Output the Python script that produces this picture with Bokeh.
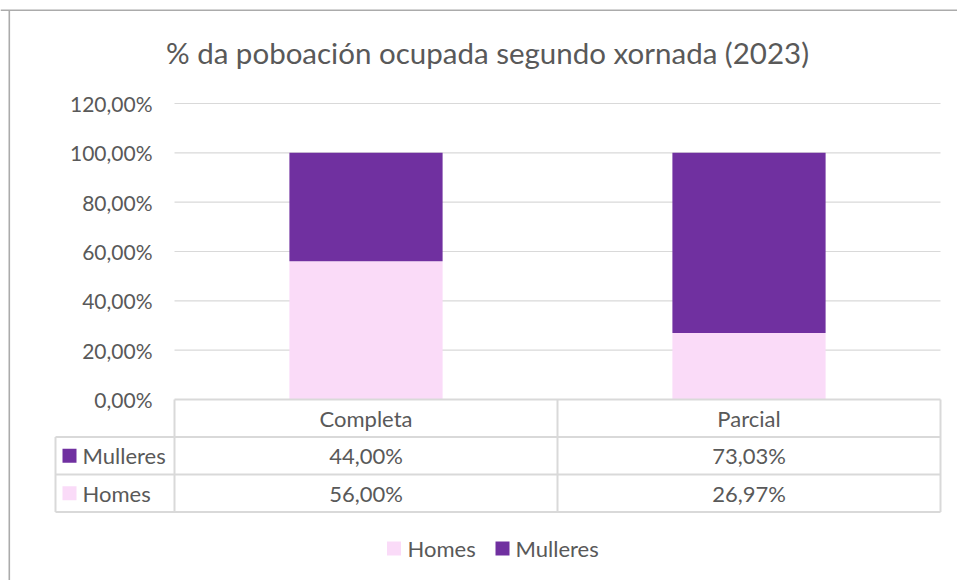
from bokeh.plotting import figure
from bokeh.models import Range1d, ColumnDataSource
from bokeh.core.properties import value
from bokeh.embed import file_html
from bokeh.resources import INLINE

# ---- data ----
title = "% da poboación ocupada segundo xornada (2023)"
categories = ["Completa", "Parcial"]
series = ["Homes", "Mulleres"]
homes = [56.00, 26.97]
mulleres = [44.00, 73.03]
y_ticks = [0, 20, 40, 60, 80, 100, 120]
tick_labels = ["0,00%", "20,00%", "40,00%", "60,00%", "80,00%", "100,00%", "120,00%"]
series_colors = ["#FADBF8", "#7030A0"]

# ---- layout (page pixels) ----
W, H = 957, 580
OX, OY = 0, 0
PX0, PX1 = 174, 940
PY0, PY120 = 399, 103
kx = (PX1 - PX0) / len(categories)
ky = (PY0 - PY120) / 120.0


def X(px):
    return (px - PX0) / kx


def Y(py):
    return (PY0 - py) / ky


FONT = value("Lato")
TXT = "#595959"
GRID = "#D9D9D9"
FS = "22px"

p = figure(width=W, height=H,
           x_range=Range1d(X(OX), X(OX + W)),
           y_range=Range1d(Y(OY + H), Y(OY)),
           output_backend="svg", toolbar_location=None,
           x_axis_location=None, y_axis_location=None,
           min_border=0, tools="")
p.xgrid.visible = False
p.ygrid.visible = False
p.outline_line_color = None
p.background_fill_color = "white"
p.border_fill_color = "white"

n = len(categories)
xs = [i + 0.5 for i in range(n)]

# gridlines
gl = y_ticks[1:]
p.segment(x0=[0] * len(gl), x1=[n] * len(gl), y0=gl, y1=gl, line_color=GRID, line_width=1.2)

# bars
src = ColumnDataSource(dict(x=xs, Homes=homes, Mulleres=mulleres))
p.vbar_stack(series, x="x", width=0.4, color=series_colors, line_color=None, source=src)

# y tick labels
p.text(x=[X(152)] * len(y_ticks), y=y_ticks, text=tick_labels, text_align="right",
       text_baseline="middle", text_font=FONT, text_font_size="21px", text_color=TXT)

# title
p.text(x=[X(487)], y=[Y(52)], text=[title], text_align="center", text_baseline="middle",
       text_font=FONT, text_font_size="29.5px", text_color=TXT)

# data table
hr = 37.5 / ky
tl = X(55)
TL = "#D9D9D9"
p.segment(x0=[0], x1=[n], y0=[0], y1=[0], line_color=TL, line_width=2)
hy = [-hr, -2 * hr, -3 * hr]
p.segment(x0=[tl] * 3, x1=[n] * 3, y0=hy, y1=hy, line_color=TL, line_width=2)
vx = list(range(n + 1))
p.segment(x0=vx, x1=vx, y0=[0] * len(vx), y1=[-3 * hr] * len(vx), line_color=TL, line_width=2)
p.segment(x0=[tl], x1=[tl], y0=[-hr], y1=[-3 * hr], line_color=TL, line_width=2)


def fmt(v):
    return f"{v:.2f}".replace(".", ",") + "%"


p.text(x=xs, y=[-0.5 * hr] * n, text=categories, text_align="center", text_baseline="middle",
       text_font=FONT, text_font_size=FS, text_color=TXT)

rows = list(zip(series, [homes, mulleres], series_colors))[::-1]
for r, (name, vals, col) in enumerate(rows):
    yc = -(r + 1.5) * hr
    p.text(x=xs, y=[yc] * n, text=[fmt(v) for v in vals], text_align="center",
           text_baseline="middle", text_font=FONT, text_font_size=FS, text_color=TXT)
    p.scatter(x=[X(69)], y=[yc], marker="square", size=14, fill_color=col, line_color=None)
    p.text(x=[X(82)], y=[yc], text=[name], text_align="left", text_baseline="middle",
           text_font=FONT, text_font_size=FS, text_color=TXT)

# bottom legend
lg_y = Y(548)
lg_key_x = [X(393.5), X(502)]
lg_txt_x = [X(407), X(515)]
p.scatter(x=lg_key_x, y=[lg_y] * 2, marker="square", size=14, fill_color=series_colors, line_color=None)
p.text(x=lg_txt_x, y=[lg_y] * 2, text=series, text_align="left", text_baseline="middle",
       text_font=FONT, text_font_size=FS, text_color=TXT)

# chart border (top & left visible)
p.segment(x0=[X(OX), X(8.8)], x1=[X(OX + W), X(8.8)], y0=[Y(9.8), Y(9.8)], y1=[Y(9.8), Y(OY + H)],
          line_color="#ABABAB", line_width=1.6)

open("out.html", "w").write(file_html(p, INLINE))
